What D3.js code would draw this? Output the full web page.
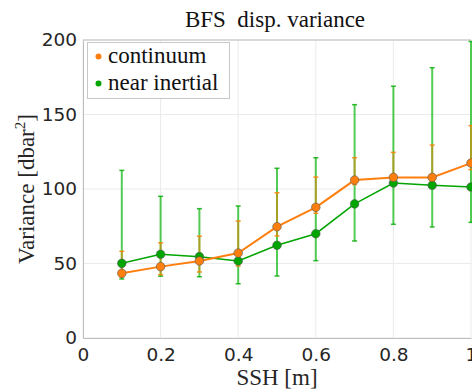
<!DOCTYPE html>
<html>
<meta charset="utf-8">
<style>
    body { margin: 0; background: #fff; }
    svg { display: block; }
</style>
<body>
<svg width="472" height="392"></svg>
<script src="https://d3js.org/d3.v7.min.js"></script>
<script>

    // values
    let ssh = [0.1, 0.2, 0.3, 0.4, 0.5, 0.6, 0.7, 0.8, 0.9, 1.0];
    let continuum = [43.4, 47.9, 51.7, 57, 74.7, 87.7, 106, 107.8, 107.8, 117.4];
    let continuumLo = [41, 42.5, 44.3, 48.3, 68.5, 83.7, 103, 105, 105, 113];
    let continuumHi = [58.2, 63.9, 68.3, 78.5, 97.5, 108, 121, 124.6, 129.5, 142.5];
    let nearInertial = [50.1, 56.2, 54.6, 51.7, 62.2, 70, 90, 104, 102.5, 101.3];
    let nearInertialLo = [39.6, 41.5, 41.1, 36.4, 41.6, 51.9, 65.1, 76.3, 74.5, 77.6];
    let nearInertialHi = [112.5, 95.1, 86.8, 88.6, 113.9, 121, 156.6, 169, 181.4, 199];
    let xTicks = [0, 0.2, 0.4, 0.6, 0.8, 1];
    let yTicks = [0, 50, 100, 150, 200];
    let seriesNames = ["continuum", "near inertial"];

    let svg = d3.select("svg"),
        margin = {top: 40, right: 1, bottom: 54, left: 83},
        width = +svg.attr("width") - margin.left - margin.right,
        height = +svg.attr("height") - margin.top - margin.bottom,
        g = svg.append("g").attr("transform", "translate(" + margin.left + "," + margin.top + ")");

    let x = d3.scaleLinear().domain([0, 1]).range([0, width]);
    let y = d3.scaleLinear().domain([0, 200]).range([height, 0]);

    let serif = "'Liberation Serif', 'Times New Roman', serif";
    let sans = "'DejaVu Sans', sans-serif";

    // grid
    g.append("g").selectAll("line")
        .data(xTicks)
        .enter().append("line")
        .attr("x1", d => x(d)).attr("x2", d => x(d))
        .attr("y1", 0).attr("y2", height)
        .attr("stroke", "#ebebeb");
    g.append("g").selectAll("line")
        .data(yTicks)
        .enter().append("line")
        .attr("x1", 0).attr("x2", width)
        .attr("y1", d => y(d)).attr("y2", d => y(d))
        .attr("stroke", "#ebebeb");

    // axes
    let xAxis = g.append("g")
        .attr("transform", "translate(0," + height + ")")
        .call(d3.axisBottom(x).tickValues(xTicks).tickSize(0).tickPadding(10)
            .tickFormat(d => d === 0 || d === 1 ? d3.format("d")(d) : d3.format(".1f")(d)));
    let yAxis = g.append("g")
        .call(d3.axisLeft(y).tickValues(yTicks).tickSize(0).tickPadding(6));
    [xAxis, yAxis].forEach(a => {
        a.select(".domain").attr("stroke", "#bdbdbd");
        a.selectAll("text").attr("font-family", sans).attr("font-size", 18.5).attr("fill", "#262626");
    });
    g.append("line")
        .attr("x1", 0).attr("x2", width)
        .attr("y1", 0).attr("y2", 0)
        .attr("stroke", "#bdbdbd");

    let series = [
        {name: seriesNames[1], mid: nearInertial, lo: nearInertialLo, hi: nearInertialHi,
            color: "#00a500", bar: "rgba(0,180,0,0.68)", cap: "rgba(0,170,0,0.8)", lw: 1.5, bw: 2},
        {name: seriesNames[0], mid: continuum, lo: continuumLo, hi: continuumHi,
            color: "#ff7f0e", bar: "rgba(240,125,0,0.55)", cap: "rgba(255,128,0,0.85)", lw: 2, bw: 2}
    ];

    // error bars
    series.forEach(s => {
        let eb = g.append("g");
        ssh.forEach((v, i) => {
            eb.append("line")
                .attr("x1", x(v)).attr("x2", x(v))
                .attr("y1", y(s.lo[i])).attr("y2", y(s.hi[i]))
                .attr("stroke", s.bar).attr("stroke-width", s.bw);
            [s.lo[i], s.hi[i]].forEach(c => {
                eb.append("line")
                    .attr("x1", x(v) - 2.5).attr("x2", x(v) + 2.5)
                    .attr("y1", y(c)).attr("y2", y(c))
                    .attr("stroke", s.cap).attr("stroke-width", 1.5);
            });
        });
    });

    // lines and markers
    series.forEach(s => {
        let pts = ssh.map((v, i) => [v, s.mid[i]]);
        g.append("path")
            .datum(pts)
            .attr("fill", "none")
            .attr("stroke", s.color)
            .attr("stroke-width", s.lw)
            .attr("d", d3.line().x(d => x(d[0])).y(d => y(d[1])));
        g.append("g").selectAll("circle")
            .data(pts)
            .enter().append("circle")
            .attr("cx", d => x(d[0]))
            .attr("cy", d => y(d[1]))
            .attr("r", 4.3)
            .attr("fill", s.color)
            .attr("stroke", "#555")
            .attr("stroke-width", 0.6);
    });

    // legend
    let legend = svg.append("g");
    legend.append("rect")
        .attr("x", 87.5).attr("y", 42.5)
        .attr("width", 142).attr("height", 56)
        .attr("fill", "#fff").attr("stroke", "#c8c8c8");
    [series[1], series[0]].forEach((s, i) => {
        legend.append("circle")
            .attr("cx", 98.5).attr("cy", 56.5 + i * 27)
            .attr("r", 3).attr("fill", s.color);
        legend.append("text")
            .attr("x", 108).attr("y", 63 + i * 27)
            .attr("font-family", serif).attr("font-size", 23)
            .attr("fill", "#111")
            .text(s.name);
    });

    // titles
    svg.append("text")
        .attr("x", 275).attr("y", 27)
        .attr("text-anchor", "middle")
        .attr("font-family", serif).attr("font-size", 23)
        .attr("fill", "#111")
        .attr("xml:space", "preserve")
        .text("BFS  disp. variance");

    svg.append("text")
        .attr("x", 277).attr("y", 385)
        .attr("text-anchor", "middle")
        .attr("font-family", serif).attr("font-size", 23)
        .attr("fill", "#262626")
        .text("SSH [m]");

    let yl = svg.append("text")
        .attr("transform", "translate(34,189) rotate(-90)")
        .attr("text-anchor", "middle")
        .attr("font-family", serif).attr("font-size", 23)
        .attr("fill", "#262626");
    yl.append("tspan").text("Variance [dbar");
    yl.append("tspan").attr("font-size", 15).attr("dy", -9).text("2");
    yl.append("tspan").attr("dy", 9).text("]");

</script>
</body>
</html>
